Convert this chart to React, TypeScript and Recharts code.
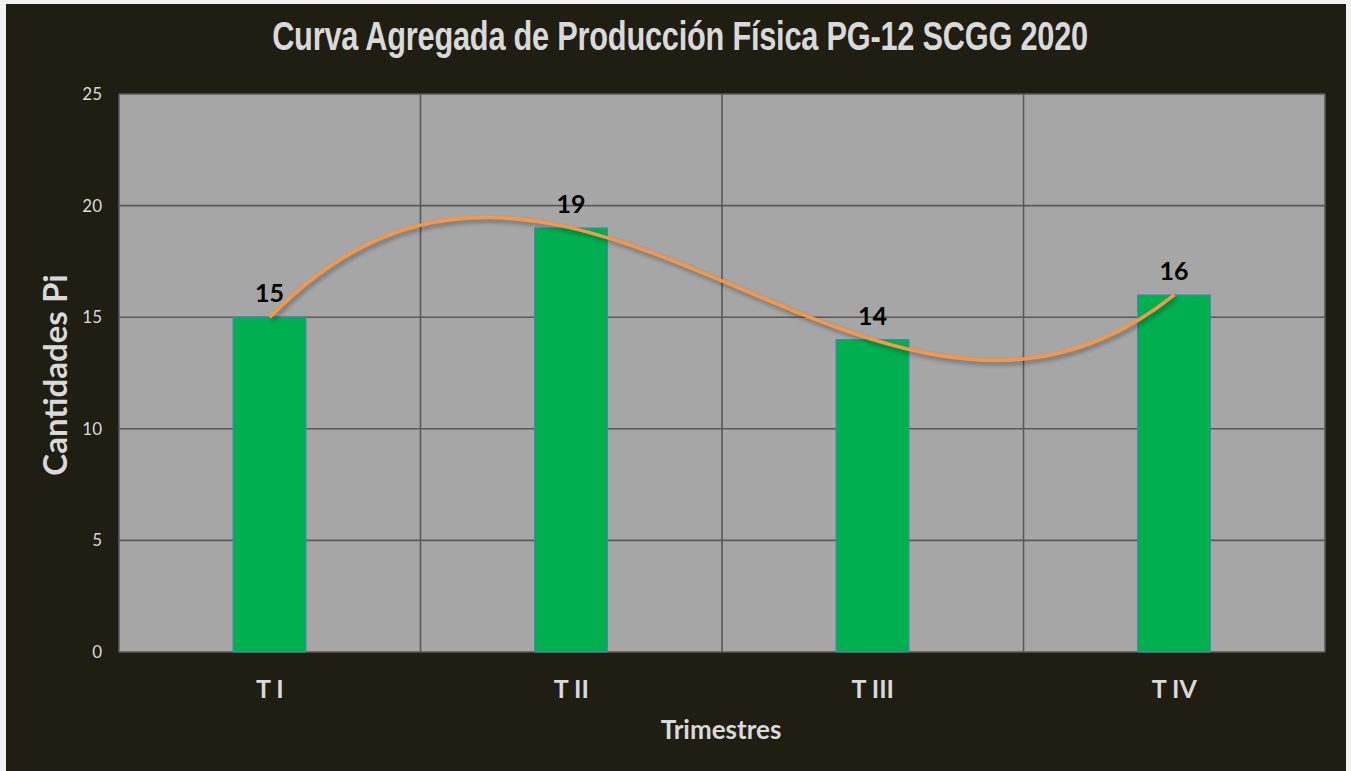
import React from "react";
import {
  ComposedChart,
  Bar,
  Line,
  XAxis,
  YAxis,
  CartesianGrid,
  LabelList,
} from "recharts";

const trimestres = ["T I", "T II", "T III", "T IV"];
const cantidades = [15, 19, 14, 16];
const yTicks = [0, 5, 10, 15, 20, 25];

const data = trimestres.map((t, i) => ({ trimestre: t, cantidad: cantidades[i] }));

// curve of an order-3 polynomial trendline through the points (drawn as bezier segments)
const polyCurve = (context: any) => {
  let pts: number[][] = [];
  const slope = (i: number) => {
    const n = pts.length;
    let d = 0;
    for (let k = 0; k < n; k++) if (k !== i) d += pts[i][1] / (pts[i][0] - pts[k][0]);
    for (let j = 0; j < n; j++) {
      if (j === i) continue;
      let num = 1;
      let den = 1;
      for (let k = 0; k < n; k++) {
        if (k !== j) den *= pts[j][0] - pts[k][0];
        if (k !== i && k !== j) num *= pts[i][0] - pts[k][0];
      }
      d += (pts[j][1] * num) / den;
    }
    return d;
  };
  return {
    areaStart() {},
    areaEnd() {},
    lineStart() {
      pts = [];
    },
    point(x: number, y: number) {
      pts.push([+x, +y]);
    },
    lineEnd() {
      if (!pts.length) return;
      const m = pts.map((_, i) => slope(i));
      context.moveTo(pts[0][0], pts[0][1]);
      for (let i = 0; i < pts.length - 1; i++) {
        const [x0, y0] = pts[i];
        const [x1, y1] = pts[i + 1];
        const h = (x1 - x0) / 3;
        context.bezierCurveTo(x0 + h, y0 + m[i] * h, x1 - h, y1 - m[i + 1] * h, x1, y1);
      }
    },
  };
};

const light = "#d9d9d9";

export default function App() {
  return (
    <div
      style={{
        position: "fixed",
        left: 0,
        top: 0,
        width: 1351,
        height: 771,
        background: "#f2f2f2",
      }}
    >
      <div style={{ position: "absolute", left: 6, top: 4, background: "#201d13" }}>
        <ComposedChart
          width={1340}
          height={767}
          data={data}
          margin={{ top: 90, right: 21, left: 53, bottom: 79 }}
        >
          <CartesianGrid
            stroke="#595959"
            strokeWidth={1.6}
            fill="#a6a6a6"
            fillOpacity={1}
            verticalCoordinatesGenerator={({ offset }: any) =>
              [0, 1, 2, 3, 4].map((i) => offset.left + (i * offset.width) / 4)
            }
          />
          <XAxis
            dataKey="trimestre"
            height={40}
            tickLine={false}
            axisLine={false}
            tickSize={0}
            tickMargin={28}
            tick={{ fill: light, fontSize: 25, fontWeight: "bold", fontFamily: "Lato" }}
          />
          <YAxis
            width={60}
            domain={[0, 25]}
            ticks={yTicks}
            tickLine={false}
            axisLine={false}
            tickSize={0}
            tickMargin={17}
            tick={{ fill: light, fontSize: 17, fontFamily: "Lato" }}
          />
          <Bar
            dataKey="cantidad"
            barSize={73}
            fill="#00b050"
            stroke="#4f81bd"
            strokeWidth={1}
            isAnimationActive={false}
          >
            <LabelList
              dataKey="cantidad"
              position="top"
              offset={15}
              fill="#000000"
              fontSize={25}
              fontWeight="bold"
              fontFamily="Lato"
            />
          </Bar>
          <Line
            dataKey="cantidad"
            type={polyCurve as any}
            stroke="#f79646"
            strokeWidth={3.5}
            dot={false}
            activeDot={false}
            isAnimationActive={false}
            style={{ filter: "drop-shadow(2px 3px 2px rgba(0,0,0,0.35))" }}
          />
        </ComposedChart>
      </div>
      <svg
        width={1351}
        height={771}
        style={{ position: "absolute", left: 0, top: 0, pointerEvents: "none" }}
      >
        <text
          x={0}
          y={0}
          transform="translate(680 50) scale(0.75 1)"
          textAnchor="middle"
          fill={light}
          fontFamily="Liberation Sans"
          fontWeight="bold"
          fontSize={41}
          letterSpacing={-0.3}
        >
          Curva Agregada de Producción Física PG-12 SCGG 2020
        </text>
        <text
          x={0}
          y={0}
          transform="translate(67 375) rotate(-90)"
          textAnchor="middle"
          fill={light}
          fontFamily="Lato"
          fontWeight="bold"
          fontSize={33}
        >
          Cantidades Pi
        </text>
        <text
          x={721}
          y={739}
          textAnchor="middle"
          fill={light}
          fontFamily="Lato"
          fontWeight="bold"
          fontSize={26}
        >
          Trimestres
        </text>
      </svg>
    </div>
  );
}
